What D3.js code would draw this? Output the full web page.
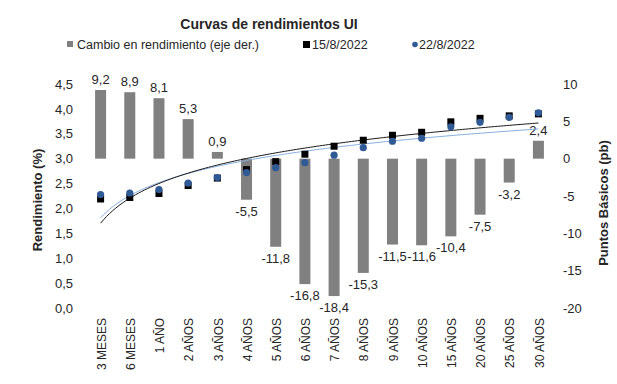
<!DOCTYPE html>
<html>
<head>
<meta charset="utf-8">
<script src="https://cdn.jsdelivr.net/npm/d3@7"></script>
<style>
  body { margin: 0; background: #fff; }
  svg { font-family: "Liberation Sans", Arial, sans-serif; }
</style>
</head>
<body>
<div id="chart"></div>
<script>
// plazos (categories)
var plazos = ['3 MESES', '6 MESES', '1 AÑO', '2 AÑOS', '3 AÑOS', '4 AÑOS', '5 AÑOS', '6 AÑOS',
  '7 AÑOS', '8 AÑOS', '9 AÑOS', '10 AÑOS', '15 AÑOS', '20 AÑOS', '25 AÑOS', '30 AÑOS'];

// rendimiento (%) 15/8/2022
var curva1508 = [2.19, 2.22, 2.30, 2.46, 2.61, 2.78, 2.94, 3.09, 3.25, 3.37, 3.47, 3.53, 3.74, 3.81, 3.86, 3.90];
// rendimiento (%) 22/8/2022
var curva2208 = [2.28, 2.31, 2.38, 2.51, 2.62, 2.72, 2.82, 2.92, 3.07, 3.22, 3.35, 3.41, 3.64, 3.73, 3.83, 3.92];
// cambio en puntos basicos (eje der.)
var cambio = [9.2, 8.9, 8.1, 5.3, 0.9, -5.5, -11.8, -16.8, -18.4, -15.3, -11.5, -11.6, -10.4, -7.5, -3.2, 2.4];

var ticksIzq = [0, 0.5, 1, 1.5, 2, 2.5, 3, 3.5, 4, 4.5];
var ticksDer = [-20, -15, -10, -5, 0, 5, 10];

var W = 617, H = 384;
var txt = '#262626';
// comma decimals, plain hyphen for negatives
var fmt = function(v) { return d3.format('.1f')(v).replace('.', ',').replace('\u2212', '-'); };
var fmtInt = function(v) { return d3.format('d')(v).replace('\u2212', '-'); };

var svg = d3.select('#chart').append('svg')
  .attr('width', W).attr('height', H);

var x = d3.scaleBand().domain(plazos).range([86, 553]);
var yL = d3.scaleLinear().domain([0, 4.5]).range([308, 84]);
var yR = d3.scaleLinear().domain([-20, 10]).range([308, 84]);
var cx = function(d) { return x(d) + x.bandwidth() / 2; };
var barW = 11;

// title
svg.append('text')
  .attr('x', 269).attr('y', 29)
  .attr('text-anchor', 'middle')
  .attr('font-size', 14).attr('font-weight', 'bold')
  .attr('fill', txt)
  .text('Curvas de rendimientos UI');

// legend
var leg = svg.append('g').attr('font-size', 12.5).attr('fill', txt);
leg.append('rect').attr('x', 67).attr('y', 41).attr('width', 6).attr('height', 6).attr('fill', '#808080');
leg.append('text').attr('x', 77).attr('y', 49).text('Cambio en rendimiento (eje der.)');
leg.append('rect').attr('x', 303).attr('y', 41).attr('width', 7).attr('height', 7).attr('fill', '#000');
leg.append('text').attr('x', 312).attr('y', 49).text('15/8/2022');
leg.append('circle').attr('cx', 415).attr('cy', 44.5).attr('r', 2.8).attr('fill', '#2f5a96');
leg.append('text').attr('x', 419).attr('y', 49).text('22/8/2022');

// left axis
var axL = svg.append('g')
  .attr('transform', 'translate(78,0)')
  .call(d3.axisLeft(yL).tickValues(ticksIzq).tickFormat(fmt).tickSize(0).tickPadding(5));
axL.select('.domain').remove();
axL.selectAll('text').attr('font-size', 13).attr('fill', txt)
  .attr('font-family', '"Liberation Sans", Arial, sans-serif');

// right axis
var axR = svg.append('g')
  .attr('transform', 'translate(558,0)')
  .call(d3.axisRight(yR).tickValues(ticksDer).tickFormat(fmtInt).tickSize(0).tickPadding(5));
axR.select('.domain').remove();
axR.selectAll('text').attr('font-size', 13).attr('fill', txt)
  .attr('font-family', '"Liberation Sans", Arial, sans-serif');

// axis titles
svg.append('text')
  .attr('transform', 'translate(42,200) rotate(-90)')
  .attr('text-anchor', 'middle')
  .attr('font-size', 13).attr('font-weight', 'bold').attr('fill', txt)
  .text('Rendimiento (%)');
svg.append('text')
  .attr('transform', 'translate(608,203) rotate(-90)')
  .attr('text-anchor', 'middle')
  .attr('font-size', 13).attr('font-weight', 'bold').attr('fill', txt)
  .text('Puntos Básicos (pb)');

// x labels
svg.append('g').selectAll('text')
  .data(plazos)
  .enter().append('text')
  .attr('transform', function(d) { return 'translate(' + (cx(d) + 1) + ',318) rotate(-90)'; })
  .attr('text-anchor', 'end')
  .attr('dy', '0.35em')
  .attr('font-size', 12).attr('fill', txt)
  .text(function(d) { return d; });

// bars
svg.append('g').selectAll('rect')
  .data(cambio)
  .enter().append('rect')
  .attr('x', function(d, i) { return cx(plazos[i]) - barW / 2; })
  .attr('y', function(d) { return yR(Math.max(0, d)); })
  .attr('width', barW)
  .attr('height', function(d) { return Math.abs(yR(d) - yR(0)); })
  .attr('fill', '#808080');

// bar labels
svg.append('g').selectAll('text')
  .data(cambio)
  .enter().append('text')
  .attr('x', function(d, i) { return cx(plazos[i]); })
  .attr('y', function(d) { return d >= 0 ? yR(d) - 6 : yR(d) + 16; })
  .attr('text-anchor', 'middle')
  .attr('font-size', 13).attr('fill', txt)
  .text(function(d) { return fmt(d); });

// logarithmic trendlines (as in the spreadsheet)
function logFit(ys) {
  var lx = ys.map(function(v, i) { return Math.log(i + 1); });
  var mx = d3.mean(lx), my = d3.mean(ys);
  var num = d3.sum(lx, function(v, i) { return (v - mx) * (ys[i] - my); });
  var den = d3.sum(lx, function(v) { return (v - mx) * (v - mx); });
  var b = num / den;
  return { a: my - b * mx, b: b };
}
var tx = d3.scaleLinear().domain([1, plazos.length]).range([cx(plazos[0]), cx(plazos[plazos.length - 1])]);
var ts = d3.range(1, plazos.length + 0.001, 0.1);
[[curva2208, '#86aede'], [curva1508, '#1a1a1a']].forEach(function(s) {
  var f = logFit(s[0]);
  var line = d3.line()
    .x(function(t) { return tx(t); })
    .y(function(t) { return yL(f.a + f.b * Math.log(t)); })
    .curve(d3.curveMonotoneX);
  svg.append('path')
    .datum(ts)
    .attr('d', line)
    .attr('fill', 'none')
    .attr('stroke', s[1])
    .attr('stroke-width', 1);
});

// markers 15/8
svg.append('g').selectAll('rect')
  .data(curva1508)
  .enter().append('rect')
  .attr('x', function(d, i) { return cx(plazos[i]) - 3.5; })
  .attr('y', function(d) { return yL(d) - 3.5; })
  .attr('width', 7).attr('height', 7)
  .attr('fill', '#000');

// markers 22/8
svg.append('g').selectAll('circle')
  .data(curva2208)
  .enter().append('circle')
  .attr('cx', function(d, i) { return cx(plazos[i]); })
  .attr('cy', function(d) { return yL(d); })
  .attr('r', 3.6)
  .attr('fill', '#2f5a96');
</script>
</body>
</html>
